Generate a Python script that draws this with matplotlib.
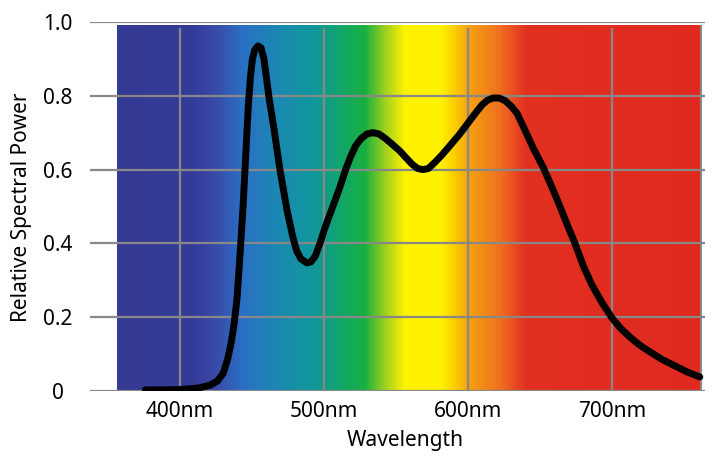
import numpy as np
import matplotlib
matplotlib.use("Agg")
import matplotlib.pyplot as plt
from matplotlib.colors import LinearSegmentedColormap

# spectrum (wavelength nm, relative power)
wavelength = [376, 390, 400, 407, 414, 421, 426, 430, 433, 435.5, 437.5, 439.6,
              441.7, 443.8, 445.8, 447.4, 448.9, 450.3, 452, 454.2, 456.3, 458.3,
              460, 462, 465.3, 469.4, 474.3, 478.5, 481, 484, 488.2, 491, 494,
              497.2, 500.5, 504.2, 508, 511.1, 515, 518.5, 522, 526, 530, 534,
              538, 542.4, 547, 552.8, 557, 561.1, 565, 568.8, 572.5, 577.1, 582,
              587.5, 594, 600, 605, 609.7, 613.5, 617.4, 621.5, 625.7, 630, 634,
              639.6, 645.1, 652.1, 658, 663.9, 669, 674.3, 680, 686.1, 693, 700,
              706, 712.5, 719, 726.4, 735, 743.8, 752, 761]
power = [0.003, 0.003, 0.004, 0.006, 0.009, 0.016, 0.027, 0.048, 0.085, 0.13,
         0.18, 0.25, 0.37, 0.50, 0.65, 0.77, 0.85, 0.90, 0.925, 0.935, 0.93,
         0.90, 0.85, 0.79, 0.71, 0.60, 0.49, 0.415, 0.38, 0.358, 0.347, 0.35,
         0.366, 0.40, 0.44, 0.48, 0.52, 0.553, 0.60, 0.635, 0.665, 0.685, 0.697,
         0.70, 0.697, 0.685, 0.67, 0.65, 0.632, 0.615, 0.603, 0.60, 0.603, 0.62,
         0.64, 0.665, 0.695, 0.726, 0.752, 0.775, 0.788, 0.794, 0.794, 0.787,
         0.772, 0.753, 0.707, 0.66, 0.607, 0.555, 0.50, 0.45, 0.40, 0.34, 0.287,
         0.24, 0.198, 0.17, 0.146, 0.125, 0.106, 0.085, 0.068, 0.052, 0.038]

x_ticks = [400, 500, 600, 700]
x_labels = ["400nm", "500nm", "600nm", "700nm"]
y_ticks = [0, 0.2, 0.4, 0.6, 0.8, 1.0]
y_labels = ["0", "0.2", "0.4", "0.6", "0.8", "1.0"]

# background rainbow (wavelength, colour)
band_nm = [356, 407, 424, 442, 469, 494, 511, 528, 542, 556, 581, 590, 601, 622, 640, 762]
band_col = ["#343a93", "#353c98", "#3a4aa8", "#2b6fc4", "#1a8ab0", "#10989a",
            "#12a66a", "#19b040", "#a0d020", "#fff200", "#fff200", "#fcd000",
            "#f5a010", "#ef7020", "#e23020", "#e02a20"]

plt.rcParams['font.family'] = ['Noto Sans', 'DejaVu Sans']

fig = plt.figure(figsize=(7.17, 4.72), dpi=100)
ax = fig.add_axes([90/717, 81/472, 615/717, 369/472])

lo, hi = band_nm[0], band_nm[-1]
stops = [((n - lo) / (hi - lo), c) for n, c in zip(band_nm, band_col)]
cmap = LinearSegmentedColormap.from_list("spec", stops)
grad = np.linspace(0, 1, 600)[np.newaxis, :]
ax.imshow(grad, cmap=cmap, aspect='auto', extent=[lo, hi, 0, 0.99],
          interpolation='bilinear', zorder=0)

ax.set_xlim(337.5, 764.6)
ax.set_ylim(0, 1.0)

# grid
ax.set_axisbelow(True)
ax.grid(axis='y', color='#888888', lw=1.6)
for t in x_ticks:
    ax.axvline(t, ymax=0.98, color='#888888', lw=1.6, zorder=0.5)
ax.axvline(hi, ymax=0.99, color='#8a8a8a', lw=1.4, zorder=0.5)

ax.plot(wavelength, power, color='black', lw=5, solid_capstyle='round',
        solid_joinstyle='round', zorder=2)

for s in ax.spines.values():
    s.set_visible(False)

ax.set_xticks(x_ticks)
ax.set_xticklabels(x_labels)
ax.set_yticks(y_ticks)
ax.set_yticklabels(y_labels)
ax.tick_params(axis='both', length=0, labelsize=15, colors='black')
ax.tick_params(axis='x', pad=7)
ax.tick_params(axis='y', pad=23)
for lab in ax.get_yticklabels():
    lab.set_horizontalalignment('center')

ax.set_xlabel("Wavelength", fontsize=15)
ax.xaxis.set_label_coords(0.512, -0.105)
fig.text(22/717, 1 - 207/472, "Relative Spectral Power", rotation=90,
         ha='center', va='center', fontsize=15)

fig.savefig("out.png", dpi=100)
